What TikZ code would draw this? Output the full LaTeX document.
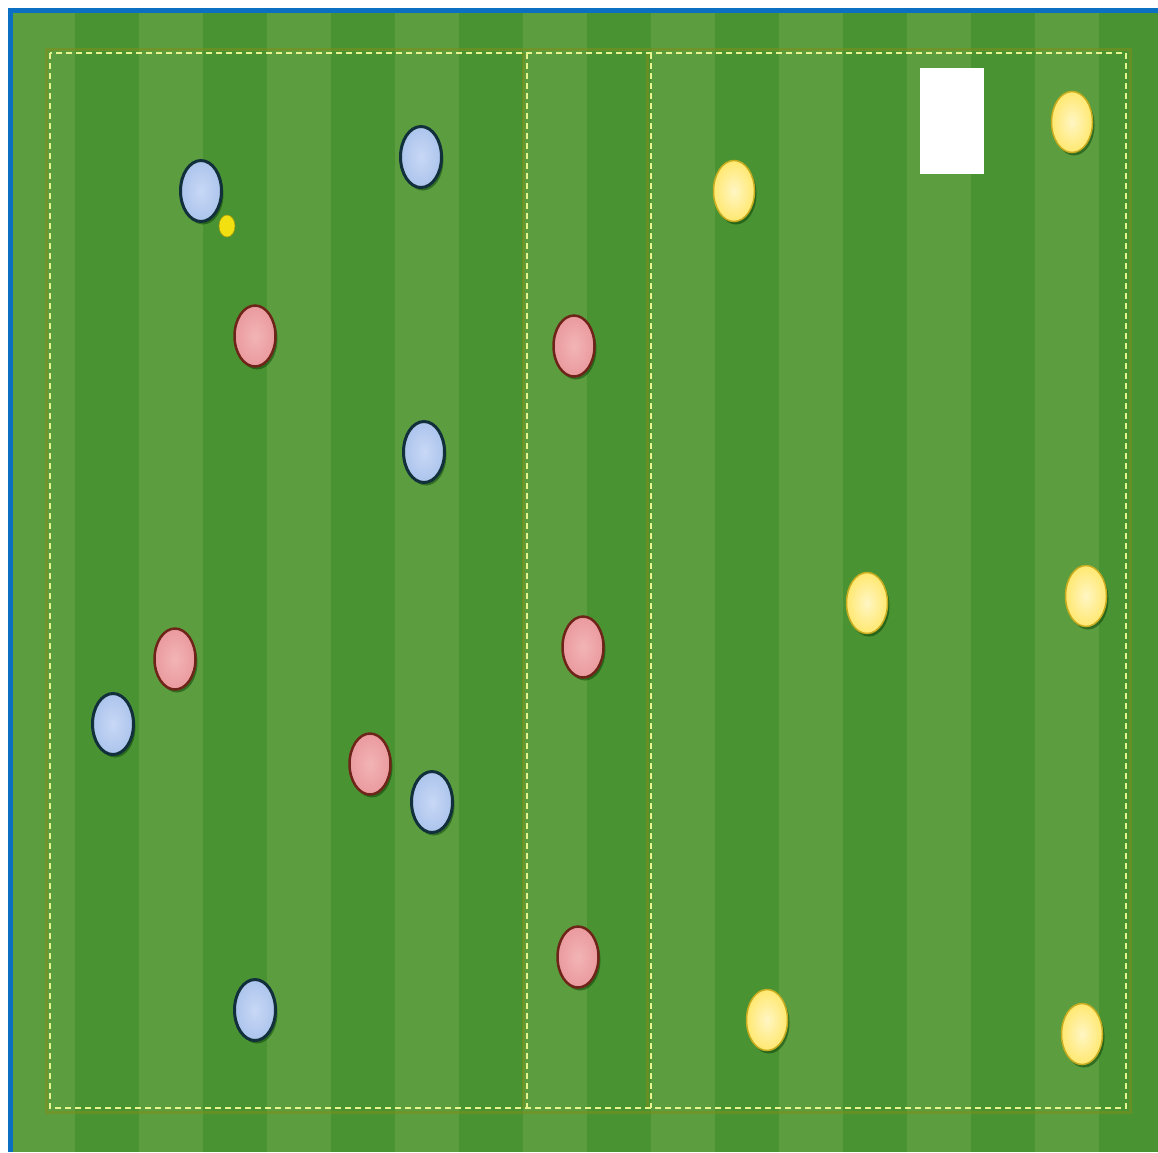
\documentclass[tikz,border=0pt]{standalone}
\usetikzlibrary{shapes.geometric,shadows}
\definecolor{frameblue}{HTML}{0B6FC2}
\definecolor{grassdark}{HTML}{4A9332}
\definecolor{grasslight}{HTML}{5B9D3F}
\definecolor{chalk}{HTML}{E6F58C}
\definecolor{chalkshade}{HTML}{7E8E1A}
\definecolor{bluefill}{HTML}{ACC4EC}
\definecolor{bluecore}{HTML}{C8D8F6}
\definecolor{blueline}{HTML}{12303C}
\definecolor{redfill}{HTML}{EA9A9E}
\definecolor{redcore}{HTML}{F2B4B6}
\definecolor{redline}{HTML}{6E2418}
\definecolor{yelfill}{HTML}{FFE870}
\definecolor{yelcore}{HTML}{FFF6C4}
\definecolor{yelline}{HTML}{C8AC20}
\definecolor{ballyel}{HTML}{F2E010}
\tikzset{
  player/.style={ellipse, inner sep=0pt, minimum width=41pt, minimum height=61pt,
    drop shadow={shadow xshift=2pt, shadow yshift=-3pt, opacity=0.45, fill=black!80!green}},
  blueplayer/.style={player, draw=blueline, line width=3pt, shading=radial, inner color=bluecore, outer color=bluefill},
  redplayer/.style={player, draw=redline, line width=2.5pt, shading=radial, inner color=redcore, outer color=redfill},
  yelplayer/.style={player, draw=yelline, line width=1.5pt, shading=radial, inner color=yelcore, outer color=yelfill},
  ballstyle/.style={ellipse, inner sep=0pt, minimum width=16pt, minimum height=22pt, fill=ballyel, draw=ballyel!70!black, line width=0.6pt},
  chalkline/.style={draw=chalk, line width=2pt, dash pattern=on 6pt off 4pt},
  chalkshadow/.style={draw=chalkshade, line width=3pt, opacity=0.55},
  goalbox/.style={fill=white, draw=none, inner sep=0pt, minimum width=64pt, minimum height=106pt}
}
\begin{document}
\begin{tikzpicture}[x=1pt,y=-1pt]
\useasboundingbox (0,0) rectangle (1158,1152);
% white margin and blue frame
\fill[white] (0,0) rectangle (1158,1152);
\fill[grassdark] (13,13) rectangle (1158,1152);
\foreach \s in {11,139,267,395,523,651,779,907,1035} {
  \fill[grasslight] ({max(\s,13)},13) rectangle ({min(\s+64,1158)},1152);
}
\fill[frameblue] (8,8) rectangle (1158,13);
\fill[frameblue] (8,8) rectangle (13,1152);
% chalk shadows
\draw[chalkshadow] (46,49) rectangle (1130,1112);
\draw[chalkshadow] (523,53) -- (523,1108);
\draw[chalkshadow] (647,53) -- (647,1108);
% chalk lines
\coordinate (tl) at (50,53);
\coordinate (br) at (1126,1108);
\coordinate (m1t) at (527,53);
\coordinate (m1b) at (527,1108);
\coordinate (m2t) at (651,53);
\coordinate (m2b) at (651,1108);
\draw[chalkline] (tl) rectangle (br);
\draw[chalkline] (m1t) -- (m1b);
\draw[chalkline] (m2t) -- (m2b);
% goal
\node[goalbox] (goal) at (952,121) {};
% blue team
\node[blueplayer] (b1) at (201,191) {};
\node[blueplayer] (b2) at (421,157) {};
\node[blueplayer] (b3) at (424,452) {};
\node[blueplayer] (b4) at (113,724) {};
\node[blueplayer] (b5) at (432,802) {};
\node[blueplayer] (b6) at (255,1010) {};
% ball
\node[ballstyle] (ball) at (227,226) {};
% red team
\node[redplayer] (r1) at (255,336) {};
\node[redplayer] (r2) at (574,346) {};
\node[redplayer] (r3) at (175,659) {};
\node[redplayer] (r4) at (583,647) {};
\node[redplayer] (r5) at (370,764) {};
\node[redplayer] (r6) at (578,957) {};
% yellow team
\node[yelplayer] (y1) at (734,191) {};
\node[yelplayer] (y2) at (1072,122) {};
\node[yelplayer] (y3) at (867,603) {};
\node[yelplayer] (y4) at (1086,596) {};
\node[yelplayer] (y5) at (767,1020) {};
\node[yelplayer] (y6) at (1082,1034) {};
\end{tikzpicture}
\end{document}
